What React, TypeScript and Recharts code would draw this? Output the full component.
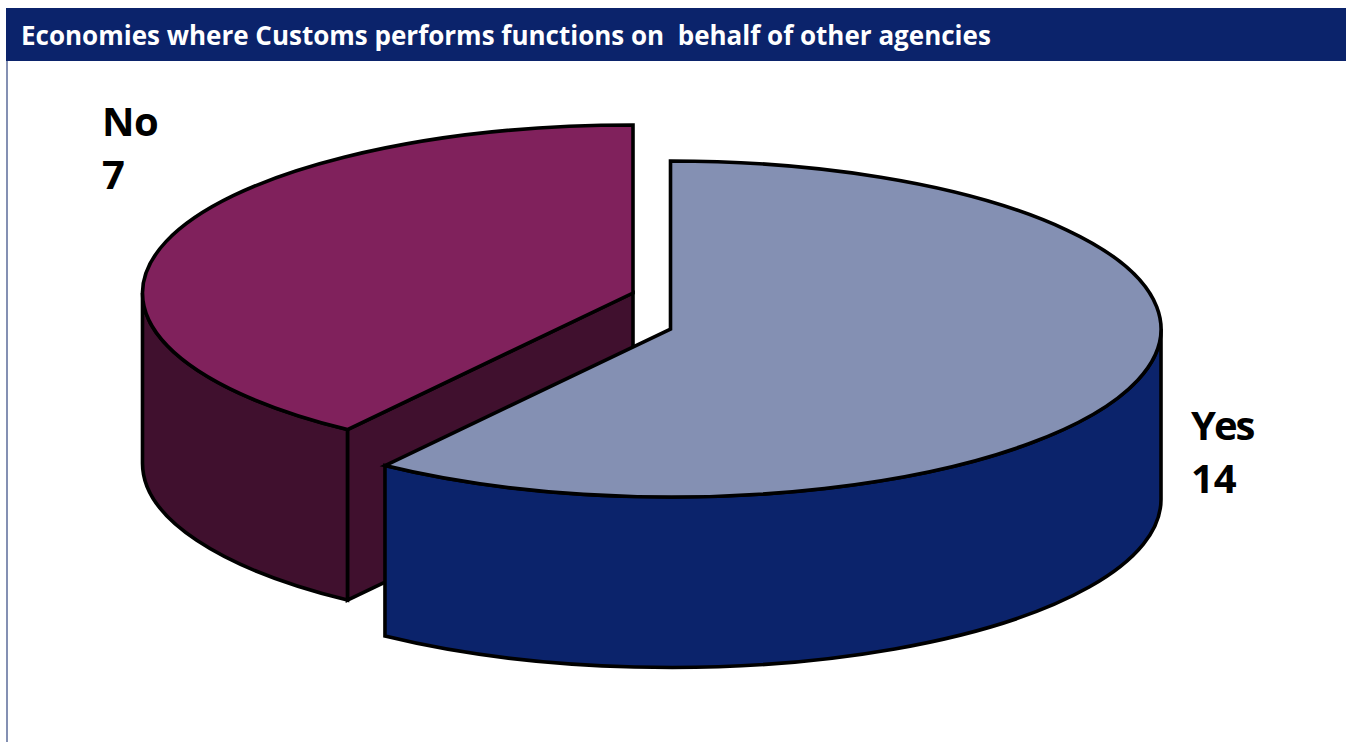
import React from "react";
import { PieChart, Pie } from "recharts";

const TITLE = "Economies where Customs performs functions on  behalf of other agencies";
// Drawn back slice first, so that the front slice overlaps it
const categories = ["No", "Yes"];
const values = [7, 14];
const topColors = ["#80215c", "#8490b3"];
const wallColors = ["#40102e", "#0b236b"];
const chartData = categories.map((name, i) => ({ name, value: values[i] }));

const WIDTH = 1346;
const HEIGHT = 742;
const CX = 652;
const CY = 311;
const RX = 490.5;
const RY = 168;
const DEPTH = 170.5;
const SQUASH = RY / RX;
const EXPLODE: Record<string, [number, number]> = { No: [-19, -18], Yes: [18.5, 18] };
const LABEL_POS: Record<string, [number, number]> = { No: [102, 136], Yes: [1191, 440] };
const LABEL_TRACKING: Record<string, string> = { No: "-0.5px", Yes: "-2px" };
const LABEL_SIZE = 40;
const LABEL_GAP = 53;
const SPLIT_TRUE = 240; // clockwise from top in pie angles
const SPLIT_SEEN = 215.6; // where the perspective puts that boundary on the ellipse

// Perspective warp: pie angle (clockwise from top) to ellipse parameter
const warp = (theta: number) =>
  theta <= SPLIT_TRUE
    ? (theta * SPLIT_SEEN) / SPLIT_TRUE
    : SPLIT_SEEN + ((theta - SPLIT_TRUE) * (360 - SPLIT_SEEN)) / (360 - SPLIT_TRUE);

function Slice3D(props: any) {
  const { cx, cy, outerRadius, startAngle, endAngle, payload, name } = props;
  const key = payload?.name ?? name;
  const idx = categories.indexOf(key);
  const [dx, dy] = EXPLODE[key];
  const ox = cx + dx;
  const oy = cy + dy;
  const rx = outerRadius;
  const ry = outerRadius * SQUASH;
  const a = 90 - Math.max(startAngle, endAngle);
  const b = 90 - Math.min(startAngle, endAngle);
  const base = a >= 360 ? 360 : 0;
  const t0 = warp(a - base);
  const t1 = warp(b - base);
  const pt = (t: number, down = 0) => {
    const r = (t * Math.PI) / 180;
    return [ox + rx * Math.sin(r), oy - ry * Math.cos(r) + down];
  };
  const arc = (from: number, to: number, down = 0) => {
    const p = pt(to, down);
    return `A ${rx} ${ry} 0 ${to - from > 180 ? 1 : 0} 1 ${p[0]} ${p[1]}`;
  };
  const bwd = (from: number, to: number, down = 0) => {
    const p = pt(to, down);
    return `A ${rx} ${ry} 0 ${from - to > 180 ? 1 : 0} 0 ${p[0]} ${p[1]}`;
  };
  const s = pt(t0);
  const common = { stroke: "#000", strokeWidth: 3.6, strokeLinejoin: "miter" as const };
  const wa = Math.max(t0, 90);
  const wb = Math.min(t1, 270);
  const wall0 = pt(wa);
  const wallEnd = pt(wb, DEPTH);
  const showFace = Math.sin((t0 * Math.PI) / 180) < -1e-6;
  return (
    <g>
      {showFace && (
        <path
          d={`M ${ox} ${oy} L ${s[0]} ${s[1]} L ${s[0]} ${s[1] + DEPTH} L ${ox} ${oy + DEPTH} Z`}
          fill={wallColors[idx]}
          {...common}
        />
      )}
      {wb > wa && (
        <path
          d={`M ${wall0[0]} ${wall0[1]} ${arc(wa, wb)} L ${wallEnd[0]} ${wallEnd[1]} ${bwd(wb, wa, DEPTH)} Z`}
          fill={wallColors[idx]}
          {...common}
        />
      )}
      <path d={`M ${ox} ${oy} L ${s[0]} ${s[1]} ${arc(t0, t1)} Z`} fill={topColors[idx]} {...common} />
    </g>
  );
}

function SliceLabel(props: any) {
  const key = props.payload?.name ?? props.name;
  const [x, y] = LABEL_POS[key];
  const style = { fontFamily: "'Open Sans', sans-serif", fontWeight: 700, fontSize: LABEL_SIZE };
  return (
    <g>
      <text x={x} y={y} fill="#000" style={{ ...style, letterSpacing: LABEL_TRACKING[key] }}>{key}</text>
      <text x={x} y={y + LABEL_GAP} fill="#000" style={style}>{props.value}</text>
    </g>
  );
}

export default function App() {
  return (
    <div style={{ position: "absolute", left: 0, top: 0, width: WIDTH, height: HEIGHT, background: "#fff", overflow: "hidden" }}>
      <div style={{ position: "absolute", left: 6, top: 8, width: 2, height: HEIGHT - 8, background: "#8490b3" }} />
      <div
        style={{
          position: "absolute",
          left: 6,
          top: 8,
          width: WIDTH - 6,
          height: 53,
          background: "#0b236b",
          color: "#fff",
          fontFamily: "'Open Sans', sans-serif",
          fontWeight: 700,
          fontSize: 26,
          lineHeight: "55px",
          paddingLeft: 15,
          boxSizing: "border-box",
          whiteSpace: "pre",
        }}
      >
        {TITLE}
      </div>
      <div style={{ position: "absolute", left: 0, top: 0 }}>
        <PieChart width={WIDTH} height={HEIGHT} margin={{ top: 0, right: 0, bottom: 0, left: 0 }}>
          <Pie
            data={chartData}
            dataKey="value"
            nameKey="name"
            cx={CX}
            cy={CY}
            innerRadius={0}
            outerRadius={RX}
            startAngle={-150}
            endAngle={-510}
            stroke="none"
            shape={Slice3D}
            label={SliceLabel}
            labelLine={false}
            isAnimationActive={false}
          />
        </PieChart>
      </div>
    </div>
  );
}
